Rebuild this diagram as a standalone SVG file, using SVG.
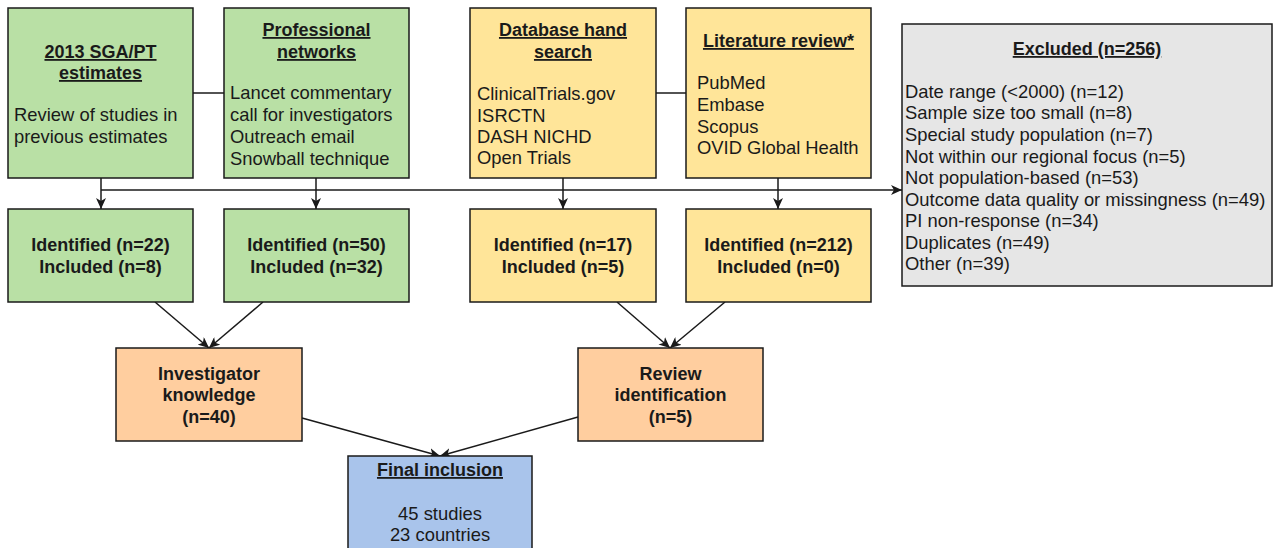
<svg xmlns="http://www.w3.org/2000/svg" width="1274" height="548" viewBox="0 0 1274 548">
<style>
.box{stroke:#1a1a1a;stroke-width:1.5}
.g{fill:#b9e0a5}.y{fill:#ffe599}.o{fill:#ffce9f}.b{fill:#a9c4eb}.x{fill:#e6e6e6}
text{font-family:"Liberation Sans",Arial,sans-serif;font-size:18.4px;fill:#1a1a1a}
.t{font-weight:bold;font-size:18px;text-decoration:underline;text-anchor:middle}
.bc{font-weight:bold;font-size:18px;text-anchor:middle}
.c{text-anchor:middle}
.ln{stroke:#1a1a1a;stroke-width:1.5;fill:none}
.ar{marker-end:url(#arr)}
</style>
<defs>
<marker id="arr" markerUnits="userSpaceOnUse" markerWidth="12" markerHeight="10" refX="11" refY="5" orient="auto">
<path d="M0,0 L11,5 L0,10 L3,5 Z" fill="#1a1a1a"/>
</marker>
</defs>
<g id="connectors">
<line class="ln" x1="193" y1="93" x2="224" y2="93"/>
<line class="ln" x1="656" y1="93" x2="686" y2="93"/>
<line class="ln ar" x1="101" y1="190" x2="902" y2="190"/>
<line class="ln ar" x1="101" y1="178" x2="101" y2="209"/>
<line class="ln ar" x1="316" y1="178" x2="316" y2="209"/>
<line class="ln ar" x1="563" y1="178" x2="563" y2="209"/>
<line class="ln ar" x1="778" y1="178" x2="778" y2="209"/>
<line class="ln ar" x1="155" y1="302" x2="209" y2="348"/>
<line class="ln ar" x1="263" y1="302" x2="209" y2="348"/>
<line class="ln ar" x1="617" y1="302" x2="670" y2="348"/>
<line class="ln ar" x1="725" y1="302" x2="670" y2="348"/>
<line class="ln ar" x1="302" y1="418" x2="440" y2="456"/>
<line class="ln ar" x1="578" y1="417" x2="440" y2="456"/>
</g>
<g id="sga">
<rect class="box g" x="8" y="8" width="185" height="170"/>
<text class="t" x="100.5" y="58">2013 SGA/PT</text>
<text class="t" x="100.5" y="79">estimates</text>
<text x="14" y="121">Review of studies in</text>
<text x="14" y="143">previous estimates</text>
</g>
<g id="networks">
<rect class="box g" x="224" y="8" width="185" height="170"/>
<text class="t" x="316.5" y="36">Professional</text>
<text class="t" x="316.5" y="58">networks</text>
<text x="230" y="99">Lancet commentary</text>
<text x="230" y="121">call for investigators</text>
<text x="230" y="143">Outreach email</text>
<text x="230" y="165">Snowball technique</text>
</g>
<g id="database">
<rect class="box y" x="470" y="8" width="186" height="170"/>
<text class="t" x="563" y="36">Database hand</text>
<text class="t" x="563" y="58">search</text>
<text x="477" y="100">ClinicalTrials.gov</text>
<text x="477" y="122">ISRCTN</text>
<text x="477" y="143">DASH NICHD</text>
<text x="477" y="164">Open Trials</text>
</g>
<g id="literature">
<rect class="box y" x="686" y="8" width="185" height="170"/>
<text class="t" x="778.5" y="47">Literature review*</text>
<text x="697" y="89">PubMed</text>
<text x="697" y="111">Embase</text>
<text x="697" y="133">Scopus</text>
<text x="697" y="154">OVID Global Health</text>
</g>
<g id="excluded">
<rect class="box x" x="902" y="24" width="370" height="262"/>
<text class="t" x="1087" y="55">Excluded (n=256)</text>
<text x="905" y="98">Date range (&lt;2000) (n=12)</text>
<text x="905" y="119">Sample size too small (n=8)</text>
<text x="905" y="141">Special study population (n=7)</text>
<text x="905" y="163">Not within our regional focus (n=5)</text>
<text x="905" y="184">Not population-based (n=53)</text>
<text x="905" y="206">Outcome data quality or missingness (n=49)</text>
<text x="905" y="227">PI non-response (n=34)</text>
<text x="905" y="249">Duplicates (n=49)</text>
<text x="905" y="270">Other (n=39)</text>
</g>
<g id="id1">
<rect class="box g" x="8" y="209" width="185" height="93"/>
<text class="bc" x="100.5" y="251">Identified (n=22)</text>
<text class="bc" x="100.5" y="273">Included (n=8)</text>
</g>
<g id="id2">
<rect class="box g" x="224" y="209" width="185" height="93"/>
<text class="bc" x="316.5" y="251">Identified (n=50)</text>
<text class="bc" x="316.5" y="273">Included (n=32)</text>
</g>
<g id="id3">
<rect class="box y" x="470" y="209" width="186" height="93"/>
<text class="bc" x="563" y="251">Identified (n=17)</text>
<text class="bc" x="563" y="273">Included (n=5)</text>
</g>
<g id="id4">
<rect class="box y" x="686" y="209" width="185" height="93"/>
<text class="bc" x="778.5" y="251">Identified (n=212)</text>
<text class="bc" x="778.5" y="273">Included (n=0)</text>
</g>
<g id="investigator">
<rect class="box o" x="116" y="348" width="186" height="93"/>
<text class="bc" x="209" y="380">Investigator</text>
<text class="bc" x="209" y="401">knowledge</text>
<text class="bc" x="209" y="423">(n=40)</text>
</g>
<g id="review">
<rect class="box o" x="578" y="348" width="185" height="93"/>
<text class="bc" x="670.5" y="380">Review</text>
<text class="bc" x="670.5" y="401">identification</text>
<text class="bc" x="670.5" y="423">(n=5)</text>
</g>
<g id="final">
<rect class="box b" x="348" y="456" width="184" height="100"/>
<text class="t" x="440" y="476">Final inclusion</text>
<text class="c" x="440" y="520">45 studies</text>
<text class="c" x="440" y="541">23 countries</text>
</g>
</svg>
